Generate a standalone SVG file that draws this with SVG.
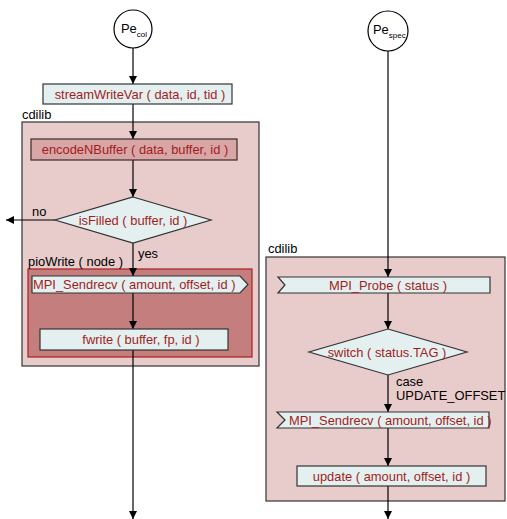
<svg xmlns="http://www.w3.org/2000/svg" width="507" height="519" viewBox="0 0 507 519">
<defs>
<marker id="ah" markerWidth="8" markerHeight="10" refX="8" refY="5" orient="auto" markerUnits="userSpaceOnUse">
<path d="M0,1 L8,5 L0,9 Z" fill="#000"/>
</marker>
<style>
text{font-family:"Liberation Sans",Arial,sans-serif;font-size:12.9px}
.t{fill:#a31c1c}
.l{fill:#000}
.node{fill:#e4f0f0;stroke:#333;stroke-width:1.2}
.cont{fill:#e8cbcb;stroke:#333;stroke-width:1.2}
.enc{fill:#d8a6a6;stroke:#3a2a2a;stroke-width:1.2}
.pio{fill:#c47e7e;stroke:#a82020;stroke-width:1.2}
.circ{fill:#fff;stroke:#000;stroke-width:1.2}
.c{stroke:#000;stroke-width:1.2;fill:none;marker-end:url(#ah)}
</style>
</defs>
<rect width="507" height="519" fill="#fff"/>

<g id="cdilib-left">
<rect class="cont" x="22" y="122" width="237" height="244"/>
<text class="l" x="22" y="119">cdilib</text>
</g>
<g id="cdilib-right">
<rect class="cont" x="266" y="257" width="239" height="244"/>
<text class="l" x="268" y="253">cdilib</text>
</g>
<g id="pioWrite">
<rect class="pio" x="28" y="269" width="224" height="88"/>
<text class="l" x="28" y="266">pioWrite ( node )</text>
</g>

<g id="connectors">
<line class="c" x1="133" y1="48" x2="133" y2="84"/>
<line class="c" x1="133" y1="104" x2="133" y2="139"/>
<line class="c" x1="133" y1="160" x2="133" y2="197"/>
<line class="c" x1="55" y1="220" x2="6" y2="220"/>
<line class="c" x1="133" y1="243" x2="133" y2="276"/>
<line class="c" x1="133" y1="293" x2="133" y2="329"/>
<line class="c" x1="133" y1="350" x2="133" y2="519"/>
<line class="c" x1="388" y1="51" x2="388" y2="277"/>
<line class="c" x1="388" y1="293" x2="388" y2="329"/>
<line class="c" x1="388" y1="375" x2="388" y2="412"/>
<line class="c" x1="388" y1="428" x2="388" y2="466"/>
<line class="c" x1="388" y1="486" x2="388" y2="519"/>
<text class="l" x="32" y="216">no</text>
<text class="l" x="138" y="258">yes</text>
<text class="l" x="396" y="386">case</text>
<text class="l" x="396" y="400">UPDATE_OFFSET</text>
</g>

<g id="pe-col">
<circle class="circ" cx="133" cy="29" r="19"/>
<text class="l" x="121" y="33" font-size="14">Pe<tspan font-size="8" dy="4">col</tspan></text>
</g>
<g id="pe-spec">
<circle class="circ" cx="388" cy="31" r="20"/>
<text class="l" x="373" y="34" font-size="14">Pe<tspan font-size="8" dy="4">spec</tspan></text>
</g>

<g id="streamWriteVar">
<rect class="node" x="43" y="84" width="189" height="20"/>
<text class="t" x="140" y="98.5" text-anchor="middle">streamWriteVar ( data, id, tid )</text>
</g>
<g id="encodeNBuffer">
<rect class="enc" x="31" y="139" width="206" height="21"/>
<text class="t" x="135" y="154" text-anchor="middle">encodeNBuffer ( data, buffer, id )</text>
</g>
<g id="isFilled">
<polygon class="node" points="133,197 211,220 133,243 55,220"/>
<text class="t" x="133" y="224.5" text-anchor="middle">isFilled ( buffer, id )</text>
</g>
<g id="mpi-sendrecv-left">
<polygon class="node" points="32,276 240,276 248,284.5 240,293 32,293"/>
<text class="t" x="33" y="289">MPI_Sendrecv ( amount, offset, id )</text>
</g>
<g id="fwrite">
<rect class="node" x="40" y="329" width="188" height="21"/>
<text class="t" x="141" y="344" text-anchor="middle">fwrite ( buffer, fp, id )</text>
</g>

<g id="mpi-probe">
<polygon class="node" points="278,277 490,277 490,293 278,293 285,285"/>
<text class="t" x="388" y="289.5" text-anchor="middle">MPI_Probe ( status )</text>
</g>
<g id="switch">
<polygon class="node" points="388,329 467,352 388,375 309,352"/>
<text class="t" x="387" y="356.5" text-anchor="middle">switch ( status.TAG )</text>
</g>
<g id="mpi-sendrecv-right">
<polygon class="node" points="277,412 489,412 489,428 277,428 285,420"/>
<text class="t" x="289" y="424.5">MPI_Sendrecv ( amount, offset, id )</text>
</g>
<g id="update">
<rect class="node" x="297" y="466" width="189" height="20"/>
<text class="t" x="391.5" y="480.5" text-anchor="middle">update ( amount, offset, id )</text>
</g>
</svg>
